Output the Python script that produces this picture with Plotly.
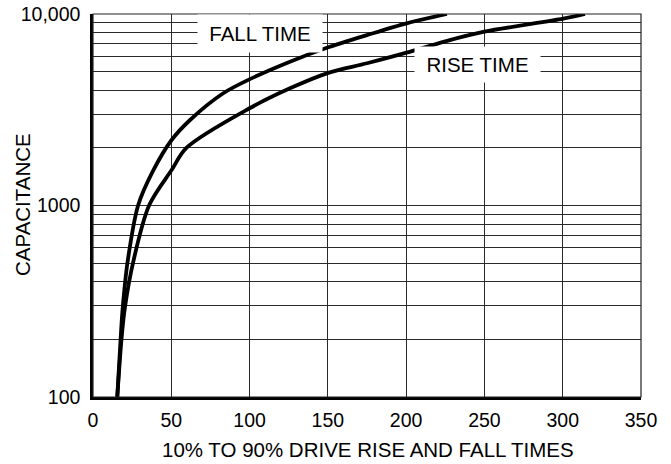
import plotly.graph_objects as go

# ---- data ----
fall_x = [15.5, 17.7, 19.0, 22.1, 28.8, 38.0, 50.2, 62.0, 83.2, 100.2, 125.8, 150.3, 175.0, 200.3, 226.0]
fall_y = [100, 205, 294, 508, 1000, 1497, 2198, 2796, 3855, 4570, 5636, 6700, 7760, 8940, 10000]

rise_x = [15.5, 18.3, 20.4, 25.7, 36.0, 50.2, 59.8, 100.3, 125.8, 150.3, 175.0, 200.3, 225.0, 250.0, 300.4, 314.2]
rise_y = [100, 205, 294, 508, 1008, 1531, 2004, 3230, 4093, 4930, 5530, 6280, 7200, 8085, 9450, 10000]

x_ticks = [0, 50, 100, 150, 200, 250, 300, 350]
y_ticks = [100, 1000, 10000]
y_ticktext = ["100", "1000", "10,000"]
y_minor = [200, 300, 400, 500, 600, 700, 800, 900,
           2000, 3000, 4000, 5000, 6000, 7000, 8000, 9000]

x_title = "10% TO 90% DRIVE RISE AND FALL TIMES"
y_title = "CAPACITANCE"
labels = ["FALL TIME", "RISE TIME"]

FONT = "Liberation Sans, Arial, Helvetica, sans-serif"
GRID = "#2a2a2a"

W, H = 671, 464
ML, MR, MT, MB = 93, 30, 14, 67
PW, PH = W - ML - MR, H - MT - MB

fig = go.Figure()
fig.add_trace(go.Scatter(x=fall_x, y=fall_y, mode="lines", name=labels[0],
                         line=dict(color="black", width=3.8, shape="spline", smoothing=0.9),
                         showlegend=False, hoverinfo="skip"))
fig.add_trace(go.Scatter(x=rise_x, y=rise_y, mode="lines", name=labels[1],
                         line=dict(color="black", width=3.8, shape="spline", smoothing=0.9),
                         showlegend=False, hoverinfo="skip"))

fig.update_layout(
    width=W, height=H,
    margin=dict(l=ML, r=MR, t=MT, b=MB, autoexpand=False),
    paper_bgcolor="white", plot_bgcolor="white",
    font=dict(family=FONT, size=19.5, color="black"),
    xaxis=dict(range=[0, 350], tickvals=x_ticks, showgrid=True, gridcolor=GRID, gridwidth=1.2,
               zeroline=False, showline=True, linecolor="black", linewidth=3, ticks="",
               ticklabelstandoff=4, tickfont=dict(size=19.5), automargin=False),
    yaxis=dict(type="log", range=[2, 4], tickvals=y_ticks, ticktext=y_ticktext,
               showgrid=True, gridcolor=GRID, gridwidth=1.2, zeroline=False,
               showline=True, linecolor="black", linewidth=2.5, ticks="",
               ticklabelstandoff=6, tickfont=dict(size=19.5), automargin=False,
               minor=dict(tickvals=y_minor, showgrid=True, gridcolor=GRID, gridwidth=1.2, ticks="")),
)

# thin frame on top/right
fig.add_shape(type="rect", xref="paper", yref="paper", x0=0, y0=0, x1=1, y1=1,
              line=dict(color="#222", width=1.2), layer="above")

# curve labels on white boxes
fig.add_annotation(x=106.7, y=3.897, xref="x", yref="y", text=labels[0], showarrow=False,
                   bgcolor="white", width=122, height=35, borderpad=1,
                   font=dict(size=20.5, family=FONT))
fig.add_annotation(x=245.6, y=3.736, xref="x", yref="y", text=labels[1], showarrow=False,
                   bgcolor="white", width=123, height=33, borderpad=1,
                   font=dict(size=20.5, family=FONT))

# axis titles (positioned in pixel terms via paper coordinates)
fig.add_annotation(x=(368 - ML) / PW, y=(H - MB - 449) / PH, xref="paper", yref="paper",
                   text=x_title, showarrow=False, font=dict(size=20.5, family=FONT),
                   yanchor="middle", xanchor="center")
fig.add_annotation(x=(22 - ML) / PW, y=(H - MB - 205) / PH, xref="paper", yref="paper",
                   text=y_title, showarrow=False, font=dict(size=20.5, family=FONT),
                   textangle=-90, xanchor="center", yanchor="middle")

fig.write_html("out.html", config={"displayModeBar": False},
               post_script="document.body.style.margin='0px';")
